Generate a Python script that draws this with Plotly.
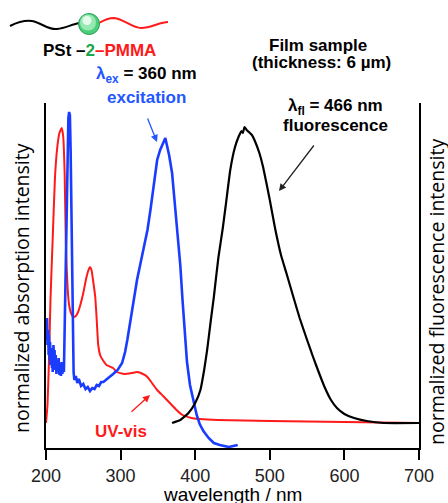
import plotly.graph_objects as go

# ---------------- data (normalized intensity, arbitrary units) ----------------
uv_wl = [200, 202, 204, 206, 208, 209, 212, 215, 218, 221, 223, 225, 226.5, 227.5, 229, 231, 234, 237, 240, 243,
         246, 250, 254, 257, 259, 261, 263, 266, 268, 270, 273, 277, 281, 290, 295, 305, 315, 322, 330, 336,
         342, 349, 357, 366, 375, 383, 395, 406, 430, 500, 600, 700]
uv_int = [25, 43, 88, 148, 190, 210, 270, 300, 315, 320, 312, 275, 208, 185, 160, 143, 134, 131, 132, 136,
          143, 155, 170, 178, 181, 178, 168, 151, 128, 103, 92, 87, 83, 80, 76, 74, 75, 76, 74, 71,
          65, 58, 52, 45, 38, 33, 30, 29, 28, 27, 26, 25]

ex_wl = [200, 201, 201.5, 202, 203, 203.5, 204, 205, 205.5, 206, 207, 208, 208.5, 209, 210, 211, 211.5, 212, 213, 214,
         215, 216, 217, 218, 219, 220, 221, 222, 223, 224, 225, 226, 227, 228, 229, 230, 231, 232, 233, 234,
         235, 236, 237, 238, 240, 242, 244, 247, 250, 253, 256, 259, 262, 265, 268, 271, 274, 277, 281, 285,
         290, 296, 302, 306, 309, 315, 322, 329, 333, 336, 340, 345, 349, 353, 357, 360, 362, 365, 369, 373,
         376, 378, 380, 383, 386, 389, 393, 397, 402, 406, 411, 418, 425, 433, 445, 457]
ex_int = [123, 108, 130, 103, 118, 93, 113, 88, 106, 83, 100, 80, 96, 76, 103, 83, 98, 78, 93, 74,
          88, 76, 90, 73, 83, 72, 86, 74, 82, 76, 118, 168, 218, 268, 308, 330, 336, 333, 298, 238,
          168, 98, 76, 68, 72, 65, 69, 62, 64, 59, 61, 57, 60, 59, 63, 62, 66, 66, 69, 71,
          74, 78, 85, 96, 108, 138, 168, 193, 208, 218, 238, 263, 288, 298, 305, 310, 303, 293, 275, 243,
          213, 196, 183, 148, 113, 86, 63, 50, 33, 24, 17, 10, 5, 3, 1, 3]

fl_wl = [369, 380, 391, 400, 407, 412, 416, 421, 425, 431, 437, 441, 447, 453, 458, 462, 464, 466, 469, 472,
         476, 480, 486, 491, 500, 507, 515, 523, 532, 540, 550, 558, 566, 574, 582, 590, 600, 613, 630, 653, 700]
fl_int = [25, 28, 35, 45, 58, 78, 98, 128, 151, 190, 220, 243, 278, 300, 311, 317, 315, 321, 318, 316,
          313, 307, 295, 281, 248, 220, 193, 173, 150, 130, 108, 91, 75, 60, 48, 40, 34, 30, 27, 25, 25]

x_ticks = [200, 300, 400, 500, 600, 700]
x_title = "wavelength / nm"
y_title_left = "normalized absorption intensity"
y_title_right = "normalized fluorescence intensity"

RED = "#ff1a1a"
BLUE = "#1a3cff"
TBLUE = "#2356ff"
GREEN = "#1aa64a"
FONT = "Liberation Sans, Arial, sans-serif"

# ---------------- layout helpers (pixel -> paper) ----------------
W, H = 448, 503
ML, MR, MT, MB = 46, 29, 103, 55
PW, PH = W - ML - MR, H - MT - MB


def X(px):
    return (px - ML) / PW


def Y(py):
    return (H - MB - py) / PH


fig = go.Figure()
fig.add_trace(go.Scatter(x=uv_wl, y=uv_int, mode="lines", line=dict(color=RED, width=2, shape="spline", smoothing=0.4),
                         hoverinfo="skip"))
fig.add_trace(go.Scatter(x=ex_wl, y=ex_int, mode="lines", line=dict(color=BLUE, width=2.6), yaxis="y2",
                         hoverinfo="skip"))
fig.add_trace(go.Scatter(x=fl_wl, y=fl_int, mode="lines", line=dict(color="black", width=2.2, shape="spline", smoothing=0.4),
                         yaxis="y2", hoverinfo="skip"))

anns = []


def txt(text, px, py, size=17, color="black", angle=0, family=FONT):
    anns.append(dict(text=text, x=X(px), y=Y(py), xref="paper", yref="paper", showarrow=False,
                     xanchor="center", yanchor="middle", textangle=angle,
                     font=dict(family=family, size=size, color=color)))


def arrow(tail, head, color):
    anns.append(dict(text="", x=X(head[0]), y=Y(head[1]), xref="paper", yref="paper",
                     ax=tail[0] - head[0], ay=tail[1] - head[1], showarrow=True,
                     arrowhead=2, arrowsize=1.1, arrowwidth=1.3, arrowcolor=color, standoff=0))


txt('<b>PSt –<span style="color:%s">2</span><span style="color:%s">–PMMA</span></b>' % (GREEN, RED), 99, 51)
txt('<b><span style="color:%s">λ<sub>ex</sub></span> = 360 nm</b>' % TBLUE, 146, 75)
txt('<b>excitation</b>', 146, 97, color=TBLUE)
txt('<b>Film sample</b>', 318, 45)
txt('<b>(thickness: 6 µm)</b>', 321, 62)
txt('<b>λ<sub>fl</sub> = 466 nm</b>', 335, 107)
txt('<b>fluorescence</b>', 335, 125)
txt('<b>UV-vis</b>', 121, 431, color=RED)
txt(x_title, 232, 494, size=19)
txt(y_title_left, 21, 288, size=19.5, angle=-90, family="Open Sans, sans-serif")
txt(y_title_right, 436, 292, size=19.5, angle=-90, family="Open Sans, sans-serif")

arrow((147, 117), (157, 142), TBLUE)
arrow((315, 144), (279, 191), "#222222")
arrow((130, 413), (150, 395), RED)

# molecule illustration
def pth(pts):
    s = "M %f,%f" % (X(pts[0][0]), Y(pts[0][1]))
    for i in range(1, len(pts), 3):
        a, b, c = pts[i], pts[i + 1], pts[i + 2]
        s += " C %f,%f %f,%f %f,%f" % (X(a[0]), Y(a[1]), X(b[0]), Y(b[1]), X(c[0]), Y(c[1]))
    return s


black_wave = [(10, 26), (18, 22), (24, 20), (32, 21), (42, 23), (48, 30), (57, 29), (66, 28), (72, 24), (80, 23)]
red_wave = [(99, 23), (104, 20), (108, 18), (114, 18), (124, 19), (132, 28), (141, 28), (151, 28), (160, 22), (168, 22)]

shapes = [
    dict(type="path", path=pth(black_wave), xref="paper", yref="paper", line=dict(color="black", width=2)),
    dict(type="path", path=pth(red_wave), xref="paper", yref="paper", line=dict(color=RED, width=2)),
]


def circ(cx, cy, r, fill, line=None, lw=0):
    return dict(type="circle", xref="paper", yref="paper", x0=X(cx - r), x1=X(cx + r), y0=Y(cy + r), y1=Y(cy - r),
                fillcolor=fill, line=dict(color=line or fill, width=lw))


shapes += [circ(89, 24, 10.5, "#4ccf7c", "#2a9d55", 1),
           circ(88, 22.5, 8, "#98e8b2"),
           circ(87, 20.5, 4.5, "#e4fbeb")]

fig.update_layout(
    width=W, height=H, margin=dict(l=ML, r=MR, t=MT, b=MB),
    paper_bgcolor="white", plot_bgcolor="white", showlegend=False,
    annotations=anns, shapes=shapes,
    xaxis=dict(range=[200, 700], tickvals=x_ticks, ticks="outside", ticklen=10, tickwidth=2, tickcolor="black",
               showline=True, linecolor="black", linewidth=2, showgrid=False, zeroline=False,
               tickfont=dict(family=FONT, size=18, color="#222")),
    yaxis=dict(range=[0, 345], showline=True, linecolor="black", linewidth=2, showgrid=False, zeroline=False,
               showticklabels=False, ticks=""),
    yaxis2=dict(range=[0, 345], overlaying="y", side="right", showline=True, linecolor="black", linewidth=2,
                showgrid=False, zeroline=False, showticklabels=False, ticks=""),
)

fig.write_html("out.html", config={"displayModeBar": False},
               post_script="document.body.style.margin='0';document.body.style.overflow='hidden';")
